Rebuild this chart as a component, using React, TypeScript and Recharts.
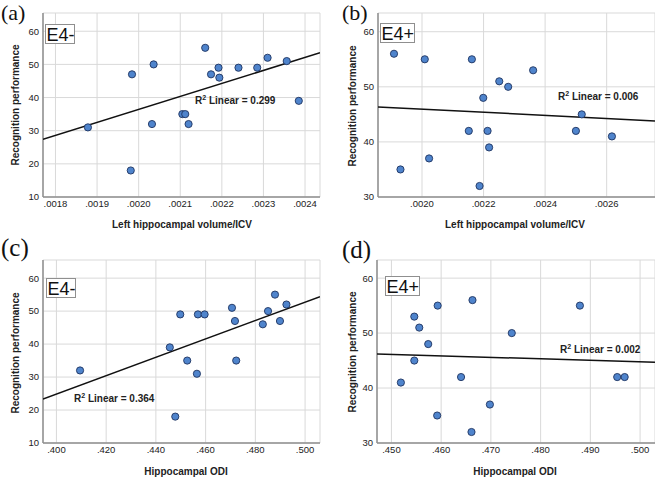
import React from 'react';
import { ScatterChart, Scatter, XAxis, YAxis, CartesianGrid } from 'recharts';

// ---------- Data ----------
// Panel (a): E4-, Left hippocampal volume/ICV
const aX = [0.001878, 0.001984, 0.001981, 0.002032, 0.002036, 0.002105, 0.002112, 0.00212, 0.00216, 0.002174, 0.002192, 0.002194, 0.00224, 0.002285, 0.00231, 0.002356, 0.002385];
const aY = [31, 47, 18, 32, 50, 35, 35, 32, 55, 47, 49, 46, 49, 49, 52, 51, 39];
const aLineX = [0.00177, 0.002436];
const aLineY = [27.4, 53.5];
const aXTicks = [0.0018, 0.0019, 0.002, 0.0021, 0.0022, 0.0023, 0.0024];
const aYTicks = [10, 20, 30, 40, 50, 60];

// Panel (b): E4+, Left hippocampal volume/ICV
const bX = [0.001909, 0.00193, 0.002009, 0.002023, 0.002162, 0.002152, 0.002187, 0.002199, 0.002213, 0.002218, 0.002251, 0.00228, 0.002361, 0.0025, 0.002519, 0.002617];
const bY = [56, 35, 55, 37, 55, 42, 32, 48, 42, 39, 51, 50, 53, 42, 45, 41];
const bLineX = [0.001857, 0.002757];
const bLineY = [46.35, 43.8];
const bXTicks = [0.002, 0.0022, 0.0024, 0.0026];
const bYTicks = [30, 40, 50, 60];

// Panel (c): E4-, Hippocampal ODI
const cX = [0.4095, 0.4456, 0.4478, 0.4498, 0.4526, 0.4565, 0.4569, 0.4596, 0.4706, 0.4718, 0.4723, 0.483, 0.4851, 0.4879, 0.4899, 0.4925];
const cY = [32, 39, 18, 49, 35, 31, 49, 49, 51, 47, 35, 46, 50, 55, 47, 52];
const cLineX = [0.3946, 0.506];
const cLineY = [23.3, 54.4];
const cXTicks = [0.4, 0.42, 0.44, 0.46, 0.48, 0.5];
const cYTicks = [10, 20, 30, 40, 50, 60];

// Panel (d): E4+, Hippocampal ODI
const dX = [0.4519, 0.4546, 0.4546, 0.4556, 0.4574, 0.4593, 0.4592, 0.464, 0.4663, 0.4661, 0.4698, 0.4742, 0.4879, 0.4954, 0.4969];
const dY = [41, 53, 45, 51, 48, 55, 35, 42, 56, 32, 37, 50, 55, 42, 42];
const dLineX = [0.4471, 0.503];
const dLineY = [46.2, 44.7];
const dXTicks = [0.45, 0.46, 0.47, 0.48, 0.49, 0.5];
const dYTicks = [30, 40, 50, 60];

const panelLetters = ['(a)', '(b)', '(c)', '(d)'];
const groupLabels = ['E4-', 'E4+', 'E4-', 'E4+'];
const r2Labels = ['0.299', '0.006', '0.364', '0.002'];
const xTitles = ['Left hippocampal volume/ICV', 'Left hippocampal volume/ICV', 'Hippocampal ODI', 'Hippocampal ODI'];
const yTitle = 'Recognition performance';

// ---------- Styles ----------
const SANS = '"Liberation Sans", Arial, sans-serif';
const SERIF = '"Liberation Serif", "Times New Roman", serif';
const GRID = '#d9d9d9';
const AXIS = '#8f8f8f';

const fmt4 = (v: number) => v.toFixed(4).replace(/^0/, '');
const fmt3 = (v: number) => v.toFixed(3).replace(/^0/, '');

const Dot = (props: any) => {
  const { cx, cy } = props;
  if (cx == null || cy == null) return <g />;
  return <circle cx={cx} cy={cy} r={3.6} fill="#4f84cc" stroke="#1e3360" strokeWidth={0.9} />;
};
const NoShape = () => <g />;

type PanelProps = {
  left: number; top: number; width: number; height: number;
  marginTop: number; marginRight: number; yAxisWidth: number; xAxisHeight: number;
  xDomain: [number, number]; yDomain: [number, number];
  xTicks: number[]; yTicks: number[]; xFmt: (v: number) => string;
  xs: number[]; ys: number[]; lx: number[]; ly: number[];
};

function Panel(p: PanelProps) {
  const pts = p.xs.map((x, i) => ({ x, y: p.ys[i] }));
  const line = p.lx.map((x, i) => ({ x, y: p.ly[i] }));
  const tickStyle = { fontSize: 9.5, fill: '#222', fontFamily: SANS };
  return (
    <div style={{ position: 'absolute', left: p.left, top: p.top, zIndex: 1 }}>
      <ScatterChart
        width={p.width}
        height={p.height}
        margin={{ top: p.marginTop, right: p.marginRight, bottom: 0, left: 0 }}
      >
        <CartesianGrid stroke={GRID} strokeWidth={1} />
        <XAxis
          type="number"
          dataKey="x"
          domain={p.xDomain}
          ticks={p.xTicks}
          tickFormatter={p.xFmt}
          allowDataOverflow
          interval={0}
          height={p.xAxisHeight}
          tickLine={false}
          tickSize={0}
          tickMargin={3}
          axisLine={{ stroke: AXIS, strokeWidth: 1.5 }}
          tick={tickStyle}
        />
        <YAxis
          type="number"
          dataKey="y"
          domain={p.yDomain}
          ticks={p.yTicks}
          allowDataOverflow
          interval={0}
          width={p.yAxisWidth}
          tickLine={false}
          tickSize={0}
          tickMargin={4}
          axisLine={{ stroke: AXIS, strokeWidth: 1.5 }}
          tick={tickStyle}
        />
        <Scatter data={line} line={{ stroke: '#111', strokeWidth: 1.5 }} shape={NoShape} isAnimationActive={false} />
        <Scatter data={pts} shape={Dot} isAnimationActive={false} />
      </ScatterChart>
    </div>
  );
}

// overlay positions
const letterPos = [[1, 20], [342, 20], [1, 256], [342, 258]];
const boxPos = [[45, 24, 29], [380, 23, 34], [46, 278, 29], [385, 276, 34]];
const r2Pos = [[195, 104], [558, 100], [74, 402], [560, 353]];
const xTitlePos = [[182, 228], [515, 228], [186, 475], [515, 475]];
const yTitlePos = [[15, 105], [352, 106], [15, 353], [352, 352]];

export default function App() {
  return (
    <div style={{ position: 'absolute', left: 0, top: 0, width: 655, height: 477, background: '#fff' }}>
      <Panel left={0} top={0} width={327} height={235} marginTop={13} marginRight={7} yAxisWidth={43} xAxisHeight={38}
        xDomain={[0.00177, 0.002436]} yDomain={[10, 65.5]} xTicks={aXTicks} yTicks={aYTicks} xFmt={fmt4}
        xs={aX} ys={aY} lx={aLineX} ly={aLineY} />
      <Panel left={327} top={0} width={328} height={235} marginTop={13} marginRight={0} yAxisWidth={51} xAxisHeight={38}
        xDomain={[0.001857, 0.002757]} yDomain={[30, 63.4]} xTicks={bXTicks} yTicks={bYTicks} xFmt={fmt4}
        xs={bX} ys={bY} lx={bLineX} ly={bLineY} />
      <Panel left={0} top={235} width={327} height={242} marginTop={25} marginRight={7} yAxisWidth={43} xAxisHeight={34}
        xDomain={[0.3946, 0.506]} yDomain={[10, 65.5]} xTicks={cXTicks} yTicks={cYTicks} xFmt={fmt3}
        xs={cX} ys={cY} lx={cLineX} ly={cLineY} />
      <Panel left={327} top={235} width={328} height={242} marginTop={25} marginRight={0} yAxisWidth={50} xAxisHeight={34}
        xDomain={[0.4471, 0.503]} yDomain={[30, 63.3]} xTicks={dXTicks} yTicks={dYTicks} xFmt={fmt3}
        xs={dX} ys={dY} lx={dLineX} ly={dLineY} />
      <svg width={655} height={477} style={{ position: 'absolute', left: 0, top: 0, pointerEvents: 'none', zIndex: 10 }}>
        {panelLetters.map((t, i) => (
          <text key={'l' + i} x={letterPos[i][0]} y={letterPos[i][1]} fontFamily={SERIF} fontSize={i < 2 ? 22 : 25} fill="#111">{t}</text>
        ))}
        {groupLabels.map((t, i) => (
          <g key={'g' + i}>
            <rect x={boxPos[i][0] + 0.5} y={boxPos[i][1] + 0.5} width={boxPos[i][2]} height={19} fill="#fff" stroke="#8f8f8f" strokeWidth={1} />
            <text x={boxPos[i][0] + 1.5} y={boxPos[i][1] + 16.5} fontFamily={SANS} fontSize={18} fill="#111">{t}</text>
          </g>
        ))}
        {r2Labels.map((t, i) => (
          <text key={'r' + i} x={r2Pos[i][0]} y={r2Pos[i][1]} fontFamily={SANS} fontSize={10} fontWeight="bold" fill="#222">
            R<tspan fontSize={7} dy={-4}>2</tspan><tspan dy={4}>{'  Linear = ' + t}</tspan>
          </text>
        ))}
        {xTitles.map((t, i) => (
          <text key={'x' + i} x={xTitlePos[i][0]} y={xTitlePos[i][1]} textAnchor="middle" fontFamily={SANS} fontSize={10} fontWeight="bold" fill="#222">{t}</text>
        ))}
        {yTitlePos.map((pos, i) => (
          <text key={'y' + i} x={pos[0]} y={pos[1]} textAnchor="middle" dominantBaseline="central" transform={`rotate(-90 ${pos[0]} ${pos[1]})`}
            fontFamily={SANS} fontSize={10} fontWeight="bold" fill="#222">{yTitle}</text>
        ))}
      </svg>
    </div>
  );
}
